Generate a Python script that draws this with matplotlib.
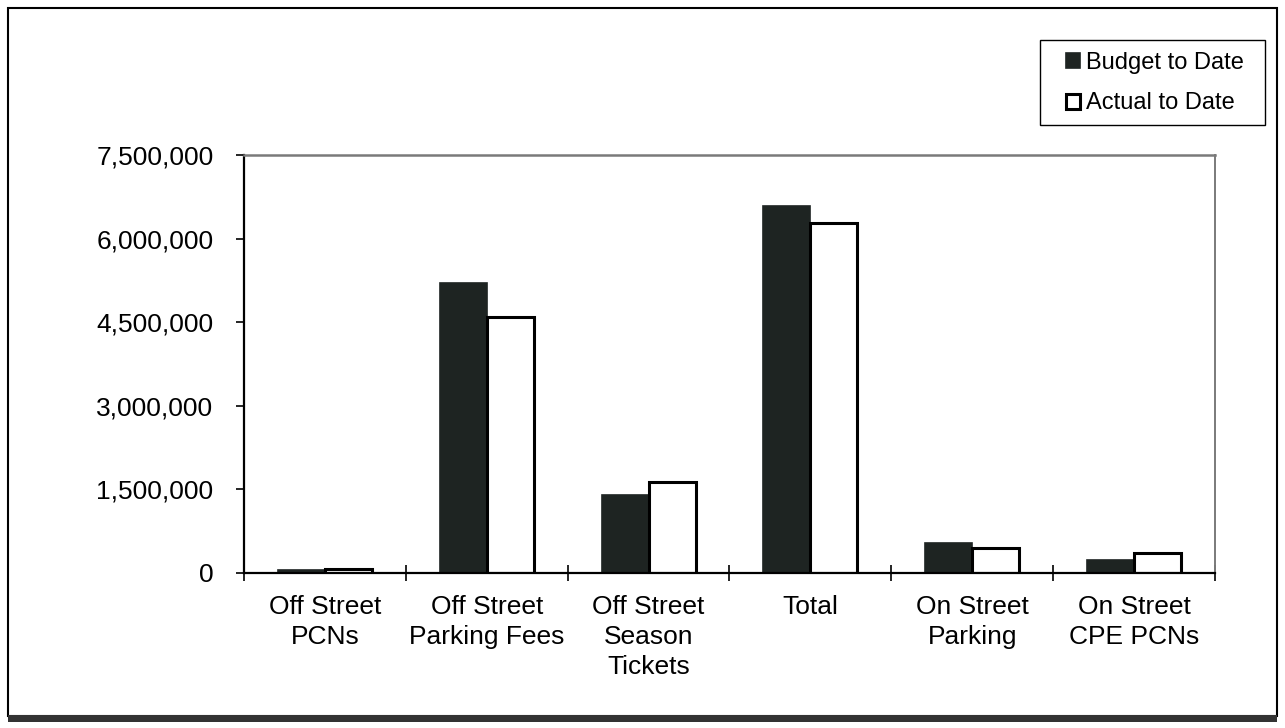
import numpy as np
import matplotlib
matplotlib.use('Agg')
import matplotlib.pyplot as plt
from matplotlib.patches import Rectangle
from matplotlib.ticker import FuncFormatter

plt.rcParams['font.family'] = ['Liberation Sans', 'DejaVu Sans']

categories = ['Off Street\nPCNs', 'Off Street\nParking Fees', 'Off Street\nSeason\nTickets',
              'Total', 'On Street\nParking', 'On Street\nCPE PCNs']
budget = [50000, 5210000, 1400000, 6590000, 540000, 230000]
actual = [65000, 4600000, 1630000, 6280000, 450000, 360000]

W, H = 1285, 728
fig = plt.figure(figsize=(W / 100, H / 100), dpi=100)
ax = fig.add_axes([244 / W, 1 - 573 / H, 971 / W, 418 / H])

x = np.arange(len(categories))
w = 0.29
ax.bar(x - w / 2, budget, w, color='#1e2422', edgecolor='#1e2422', linewidth=1.2,
       label='Budget to Date')
ax.bar(x + w / 2, actual, w, color='white', edgecolor='black', linewidth=2.2,
       label='Actual to Date')

ax.set_xlim(-0.5, len(categories) - 0.5)
ax.set_ylim(0, 7500000)
ax.set_yticks(np.arange(0, 7500001, 1500000))
ax.yaxis.set_major_formatter(FuncFormatter(lambda v, p: f'{int(v):,}'))
ax.tick_params(axis='y', labelsize=19, length=6, width=1.2, direction='out', pad=16)

# category boundaries as ticks, labels at centres
ax.set_xticks(np.arange(-0.5, len(categories), 1.0))
ax.set_xticklabels([])
ax.tick_params(axis='x', which='major', length=11, width=1.2, direction='inout')
ax.set_xticks(x, minor=True)
ax.set_xticklabels(categories, minor=True, fontsize=19, linespacing=1.32)
ax.tick_params(axis='x', which='minor', length=0, pad=16)

ax.spines['left'].set_linewidth(1.6)
ax.spines['bottom'].set_linewidth(1.6)
ax.spines['top'].set_color('#7a7a7a')
ax.spines['top'].set_linewidth(1.8)
ax.spines['right'].set_color('#7a7a7a')
ax.spines['right'].set_linewidth(1.4)

# legend: box drawn separately, entries placed inside
fig.patches.append(Rectangle((1040 / W, 1 - 125 / H), 225 / W, 85 / H, transform=fig.transFigure,
                             facecolor='white', edgecolor='black', linewidth=1.0, zorder=4))
handles, labels = ax.get_legend_handles_labels()
leg = fig.legend(handles, labels, loc='center left', bbox_to_anchor=(1066 / W, 1 - 83 / H),
                 fontsize=17, frameon=False, handlelength=0.6, handleheight=0.6,
                 handletextpad=0.25, borderpad=0, labelspacing=0.8, borderaxespad=0)
leg.set_zorder(6)

# outer frame with shadow at the bottom
fig.patches.append(Rectangle((8 / W, 12 / H), 1269 / W, 708 / H, transform=fig.transFigure,
                             fill=False, edgecolor='black', linewidth=1.5))
fig.patches.append(Rectangle((8 / W, 6 / H), 1269 / W, 7 / H, transform=fig.transFigure,
                             facecolor='#333333', edgecolor='none'))

fig.savefig('out.png', dpi=100)
